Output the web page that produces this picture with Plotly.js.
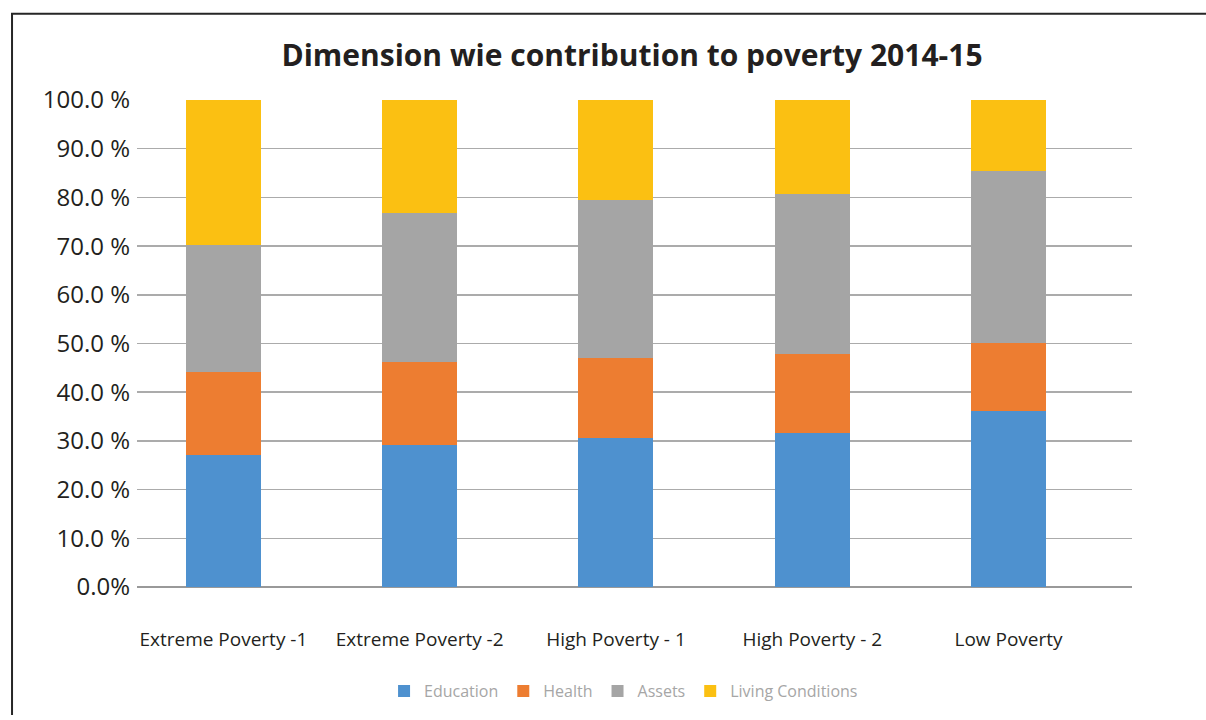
<!DOCTYPE html>
<html>
<head>
<meta charset="utf-8">
<script src="https://cdn.plot.ly/plotly-3.0.1.min.js"></script>
<style>
  html, body { margin: 0; padding: 0; background: #ffffff; }
  #chart { width: 1206px; height: 720px; }
</style>
</head>
<body>
<div id="chart"></div>
<script>
const categories = ["Extreme Poverty -1", "Extreme Poverty -2", "High Poverty - 1", "High Poverty - 2", "Low Poverty"];
const education = [27.2, 29.1, 30.5, 31.7, 36.1];
const health = [17.0, 17.0, 16.5, 16.2, 14.0];
const assets = [26.0, 30.8, 32.4, 32.8, 35.3];
const livingConditions = [29.8, 23.1, 20.6, 19.3, 14.6];
const yTickValues = [0, 10, 20, 30, 40, 50, 60, 70, 80, 90, 100];
const yTickLabels = ["0.0%", "10.0 %", "20.0 %", "30.0 %", "40.0 %", "50.0 %", "60.0 %", "70.0 %", "80.0 %", "90.0 %", "100.0 %"];
const chartTitle = "Dimension wie contribution to poverty 2014-15";

const FONT = "Open Sans, Noto Sans, sans-serif";
const barWidth = 0.382;

function bar(name, values, color) {
  return {
    type: "bar",
    name: name,
    x: categories,
    y: values,
    width: barWidth,
    marker: { color: color, line: { width: 0 } },
    hoverinfo: "x+y+name"
  };
}

const data = [
  bar("Education", education, "#4e91cf"),
  bar("Health", health, "#ed7d31"),
  bar("Assets", assets, "#a5a5a5"),
  bar("Living Conditions", livingConditions, "#fbc012")
];

const layout = {
  width: 1206,
  height: 720,
  barmode: "stack",
  paper_bgcolor: "#ffffff",
  plot_bgcolor: "#ffffff",
  margin: { l: 137, r: 74, t: 100, b: 129, pad: 0 },
  font: { family: FONT, color: "#262626" },
  title: {
    text: "<b>" + chartTitle + "</b>",
    font: { family: FONT, size: 30, color: "#231f20" },
    x: 0.4975, xanchor: "center", xref: "paper",
    y: 1 - 55 / 720, yanchor: "middle", yref: "container"
  },
  xaxis: {
    type: "category",
    range: [-0.44, 4.629],
    showgrid: false,
    showline: false,
    zeroline: false,
    ticks: "",
    ticklabelstandoff: 39,
    tickfont: { family: FONT, size: 19, color: "#231f20" },
    fixedrange: true
  },
  yaxis: {
    range: [0, 100],
    tickmode: "array",
    tickvals: yTickValues,
    ticktext: yTickLabels,
    showgrid: true,
    gridcolor: "#ababab",
    gridwidth: 1.5,
    zeroline: true,
    zerolinecolor: "#999999",
    zerolinewidth: 1.5,
    showline: false,
    ticks: "",
    ticklabelstandoff: 6,
    tickfont: { family: FONT, size: 24, color: "#231f20" },
    fixedrange: true
  },
  showlegend: true,
  legend: {
    orientation: "h",
    x: 0.489, xanchor: "center",
    y: (591 - 696) / 491, yanchor: "middle",
    font: { family: FONT, size: 16, color: "#a6a6a6" },
    traceorder: "normal",
    itemclick: false,
    itemdoubleclick: false
  },
  shapes: [
    {
      type: "path",
      xref: "paper", yref: "paper",
      path: "M -0.1256 -0.2627 L -0.1256 1.1772 L 1.0744 1.1772",
      line: { color: "#262626", width: 2 }
    }
  ]
};

Plotly.newPlot("chart", data, layout, { displayModeBar: false, staticPlot: true });
</script>
</body>
</html>
